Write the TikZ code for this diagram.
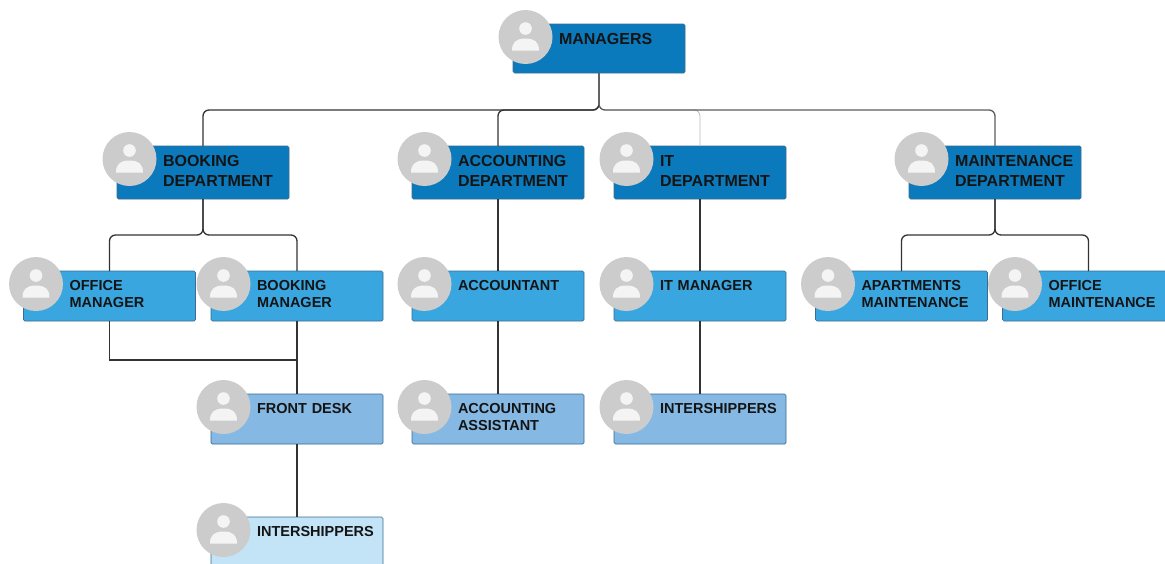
\documentclass[tikz,border=0pt]{standalone}
\usepackage{fontspec}
\setmainfont{Liberation Sans}
\usetikzlibrary{positioning}
\definecolor{deptblue}{HTML}{0B7ABD}
\definecolor{staffblue}{HTML}{3AA6E0}
\definecolor{deskblue}{HTML}{85B9E4}
\definecolor{internblue}{HTML}{C3E4F7}
\definecolor{boxline}{HTML}{3A6C8E}
\definecolor{avatargray}{HTML}{CCCCCC}
\definecolor{avatarwhite}{HTML}{F4F4F4}
\definecolor{linkgray}{HTML}{333333}

\begin{document}
\begin{tikzpicture}
[x=1pt, y=-1pt,
% The box style is shared by every person in the chart
box/.style={rectangle, draw=boxline, line width=0.7pt, rounded corners=1.5pt, inner sep=0pt, outer sep=0pt, text width=172pt, text=black!92,
  execute at begin node={\leftskip=46pt\rightskip=0pt plus 1fil\parindent=0pt}},
% Departments use the bigger text
dept/.style={box, fill=deptblue, text height=20pt, text depth=33pt, font=\fontsize{16}{20}\selectfont\bfseries},
staff/.style={box, fill=staffblue, text height=19pt, text depth=31pt, font=\fontsize{14.5}{17}\selectfont\bfseries},
desk/.style={staff, fill=deskblue},
intern/.style={staff, fill=internblue},
avatar/.style={circle, fill=avatargray, minimum size=54pt, inner sep=0pt},
link/.style={draw=linkgray, line width=1.3pt, rounded corners=6pt},
plainlink/.style={draw=linkgray, line width=1.3pt}
]
\clip (0,0) rectangle (1165,563);
% Draw top level
\node [dept, text depth=29pt] (managers) at (599,48.5) {MANAGERS};
% Draw departments
\node [dept] (bookingdept) at (203,172.5) {BOOKING\\DEPARTMENT};
\node [dept] (accountingdept) at (498,172.5) {ACCOUNTING\\DEPARTMENT};
\node [dept] (itdept) at (700,172.5) {IT\\DEPARTMENT};
\node [dept] (maintdept) at (995,172.5) {MAINTENANCE\\DEPARTMENT};
% Draw staff
\node [staff, below=72pt of bookingdept, xshift=-93.5pt] (officemgr) {OFFICE\\MANAGER};
\node [staff, below=72pt of bookingdept, xshift=94pt] (bookingmgr) {BOOKING\\MANAGER};
\node [staff, below=72pt of accountingdept] (accountant) {ACCOUNTANT};
\node [staff, below=72pt of itdept] (itmgr) {IT MANAGER};
\node [staff, below=72pt of maintdept, xshift=-93.5pt] (aptmaint) {APARTMENTS\\MAINTENANCE};
\node [staff, below=72pt of maintdept, xshift=93.5pt] (officemaint) {OFFICE\\MAINTENANCE};
\node [desk, below=73pt of bookingmgr] (frontdesk) {FRONT DESK};
\node [desk, below=73pt of accountant] (accassistant) {ACCOUNTING\\ASSISTANT};
\node [desk, below=73pt of itmgr] (itintern) {INTERSHIPPERS};
\node [intern, below=73pt of frontdesk] (deskintern) {INTERSHIPPERS};
% Draw connectors
\draw [link] (managers.south) -- ++(0,37) -| (bookingdept.north);
\draw [link] (managers.south) -- ++(0,37) -| (accountingdept.north);
\draw [link, draw=gray!55, line width=0.8pt] (managers.south) -- ++(0,37) -| (itdept.north);
\draw [link, draw=linkgray!80] (managers.south) -- ++(0,37) -| (maintdept.north);
\draw [link] (bookingdept.south) -- ++(0,36) -| (officemgr.north);
\draw [link] (bookingdept.south) -- ++(0,36) -| (bookingmgr.north);
\draw [link] (maintdept.south) -- ++(0,36) -| (aptmaint.north);
\draw [link] (maintdept.south) -- ++(0,36) -| (officemaint.north);
\draw [plainlink] (accountingdept) -- (accountant);
\draw [plainlink] (accountant) -- (accassistant);
\draw [plainlink] (itdept) -- (itmgr);
\draw [plainlink] (itmgr) -- (itintern);
\draw [plainlink] (bookingmgr) -- (frontdesk);
\draw [plainlink] (frontdesk) -- (deskintern);
\draw [plainlink] (officemgr.south) -- ++(0,39) -| (frontdesk.north);
% Draw avatars
\foreach \who in {managers,bookingdept,accountingdept,itdept,maintdept,officemgr,bookingmgr,accountant,itmgr,aptmaint,officemaint,frontdesk,accassistant,itintern,deskintern}{
  \node [avatar] (\who-face) at ([shift={(12.5,13)}]\who.north west) {};
  \fill [avatarwhite, shift={(\who-face.center)}] (0,-8.5) circle (6.3pt);
  \fill [avatarwhite, shift={(\who-face.center)}] (-13.5,13.5) .. controls (-13.5,5) and (-9,1.5) .. (0,1.5) .. controls (9,1.5) and (13.5,5) .. (13.5,13.5) -- cycle;
}
\end{tikzpicture}
\end{document}
